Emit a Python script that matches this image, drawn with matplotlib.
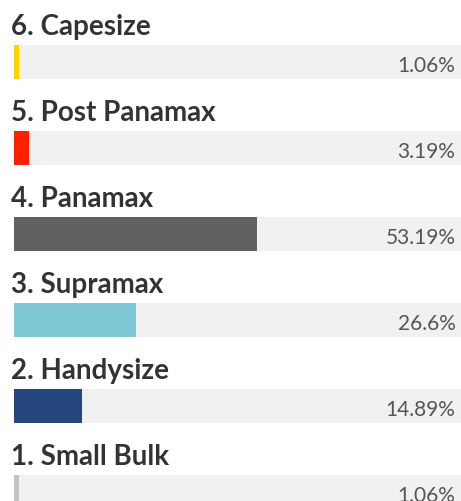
import matplotlib
matplotlib.use("Agg")
import matplotlib.pyplot as plt

names = ["6. Capesize", "5. Post Panamax", "4. Panamax", "3. Supramax", "2. Handysize", "1. Small Bulk"]
shares = [1.06, 3.19, 53.19, 26.6, 14.89, 1.06]
labels = ["1.06%", "3.19%", "53.19%", "26.6%", "14.89%", "1.06%"]
colors = ["#FFD200", "#FF2000", "#616161", "#7FC8D5", "#26467F", "#C4C4C4"]

W, H = 461, 502
fig = plt.figure(figsize=(W / 100, H / 100), dpi=100)
ax = fig.add_axes([14 / W, 0, 1 - 14 / W, 1])

pos = list(range(len(names)))
ax.barh(pos, [100] * len(names), height=34 / 86, color="#F1F1F1", zorder=1)
ax.barh(pos, shares, height=34 / 86, color=colors, zorder=2)

for i in pos:
    ax.text(-0.7, i - 28 / 86, names[i], fontsize=20, fontweight="bold",
            family="Lato", color="#333333", va="baseline", ha="left")
    ax.text(96.6, i + 9 / 86, labels[i], fontsize=15, family="Lato",
            color="#555555", va="baseline", ha="right")

ax.set_xlim(0, 447 / 4.57)
ax.set_ylim(H / 86 - 63 / 86, -63 / 86)
ax.axis("off")

fig.savefig("out.png", dpi=100)
